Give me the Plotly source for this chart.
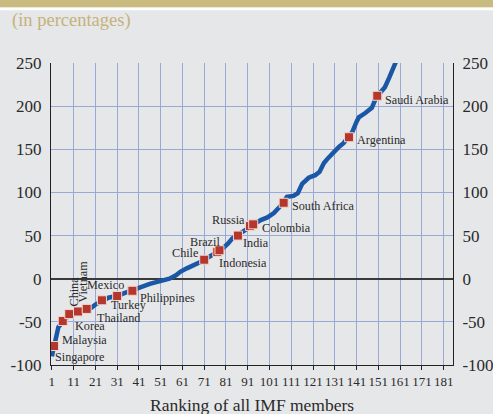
import plotly.graph_objects as go

# curve: rank of member vs. value (in percentages)
line_rank = [1, 1.5, 2, 3, 4, 5, 6, 8, 9, 11, 13, 15, 17, 19, 21, 24, 27, 29, 31, 34,
             36, 38, 40, 42, 44, 46, 49, 52, 55, 58, 60, 63, 66, 69, 71, 74, 77, 79, 82, 84,
             86, 88, 91, 93, 95, 97, 100, 103, 105, 107, 109, 112, 114, 116, 119, 122, 124,
             126, 128, 131, 133, 135, 137, 139, 141, 142, 145, 148, 150, 152, 154, 156, 158,
             159, 160]
line_value = [-90, -84, -78, -62, -56, -53, -50, -45, -42, -41, -38, -37, -35, -34, -30, -26,
              -22, -21, -20, -17, -15, -14, -12, -10, -7, -6, -4, -2, 0, 4, 8, 12, 15, 19, 22,
              27, 31, 34, 41, 47, 50, 53, 59, 62, 65, 68, 71, 76, 81, 87, 95, 96, 99, 110, 117,
              120, 124, 134, 140, 149, 153, 157, 163, 170, 182, 187, 192, 198, 210, 216, 222,
              233, 245, 250, 257]

countries = ["Singapore", "Malaysia", "Korea", "China", "Vietnam", "Thailand", "Turkey",
             "Mexico", "Philippines", "Chile", "Brazil", "Indonesia", "India", "Russia",
             "Colombia", "South Africa", "Argentina", "Saudi Arabia"]
country_rank = [2, 6, 9, 13, 17, 24, 31, 38, 38, 71, 77, 78, 86.5, 92, 93.5, 107.5, 137.5, 150.5]
country_value = [-78, -49, -41, -38, -35, -25, -20, -14, -14, 22, 31, 33, 50, 61, 63, 88, 164, 212]

x_ticks = list(range(1, 182, 10))
y_ticks = [-100, -50, 0, 50, 100, 150, 200, 250]
y_labels = ["-100", "-50", "0", "50", "100", "150", "200", "250"]

# label placement: (xanchor, xshift, yshift, angle)
label_pos = {
    "Singapore": ("left", -1, -11, 0),
    "Malaysia": ("left", -3, -19, 0),
    "Korea": ("left", 4, -12, 0),
    "China": ("center", -4, 20, -90),
    "Vietnam": ("center", -4, 27, -90),
    "Thailand": ("left", -7, -18, 0),
    "Turkey": ("left", -8, -9, 0),
    "Mexico": ("right", -6, 6, 0),
    "Philippines": ("left", 6, -7, 0),
    "Chile": ("right", -4, 7, 0),
    "Brazil": ("right", 5, 10, 0),
    "Indonesia": ("left", -2, -13, 0),
    "India": ("left", 3, -7, 0),
    "Russia": ("right", -3, 6, 0),
    "Colombia": ("left", 7, -4, 0),
    "South Africa": ("left", 6, -3, 0),
    "Argentina": ("left", 6, -3, 0),
    "Saudi Arabia": ("left", 6, -4, 0),
}

SERIF = "Liberation Serif, Times New Roman, serif"
BG = "#e6e7e9"
GRID = "#9aa8d8"
TXT = "#2a2a2a"

fig = go.Figure()
fig.add_trace(go.Scatter(x=line_rank, y=line_value, mode="lines",
                         line=dict(color="#1a57a6", width=4.5), hoverinfo="skip"))
fig.add_trace(go.Scatter(x=country_rank, y=country_value, mode="markers",
                         marker=dict(symbol="square", size=9, color="#b3372d",
                                     line=dict(color="#f3d6cf", width=1)),
                         text=countries))
# invisible trace so the right axis is drawn
fig.add_trace(go.Scatter(x=[None], y=[None], yaxis="y2", showlegend=False))

for name, rk, val in zip(countries, country_rank, country_value):
    anchor, dx, dy, ang = label_pos[name]
    fig.add_annotation(x=rk, y=val, text=name, showarrow=False, xanchor=anchor,
                       yanchor="middle", xshift=dx, yshift=dy, textangle=ang,
                       font=dict(family=SERIF, size=12.2, color=TXT))

fig.add_annotation(xref="paper", yref="paper", x=-0.102, y=1.14, xanchor="left",
                   yanchor="middle", showarrow=False, text="(in percentages)",
                   font=dict(family=SERIF, size=18.5, color="#c5b27a"))
fig.add_annotation(xref="paper", yref="paper", x=0.5, y=-0.131, xanchor="center",
                   yanchor="middle", showarrow=False, text="Ranking of all IMF members",
                   font=dict(family=SERIF, size=17.5, color=TXT))

# gold header band with a thin white rule under it
fig.add_shape(type="rect", xref="paper", yref="paper", x0=-0.2, x1=1.2, y0=1.184, y1=1.25,
              fillcolor="#c9ba80", line_width=0, layer="below")
fig.add_shape(type="rect", xref="paper", yref="paper", x0=-0.2, x1=1.2, y0=1.175, y1=1.184,
              fillcolor="#ffffff", line_width=0, layer="below")

fig.update_layout(
    width=493, height=414,
    margin=dict(l=51, r=40, t=63, b=49),
    paper_bgcolor=BG, plot_bgcolor=BG,
    showlegend=False,
    xaxis=dict(range=[0.6, 185.3], tickvals=x_ticks, ticks="outside", ticklen=4,
               tickcolor="#222", showgrid=True, gridcolor=GRID, gridwidth=1,
               showline=True, linecolor="#222", linewidth=1, zeroline=False,
               tickangle=0, automargin=False,
               tickfont=dict(family=SERIF, size=13, color=TXT)),
    yaxis=dict(range=[-100, 250], tickvals=y_ticks, ticktext=y_labels, showgrid=True,
               gridcolor=GRID, gridwidth=1,
               zeroline=True, zerolinecolor="#3a3a3a", zerolinewidth=1.5,
               showline=True, linecolor="#222", linewidth=1, ticks="",
               ticklabelstandoff=5, automargin=False,
               tickfont=dict(family=SERIF, size=17, color=TXT)),
    yaxis2=dict(range=[-100, 250], tickvals=y_ticks, ticktext=y_labels, overlaying="y",
                side="right", showgrid=False, automargin=False,
                zeroline=False, showline=True, linecolor="#222", linewidth=1, ticks="",
                ticklabelstandoff=5,
                tickfont=dict(family=SERIF, size=17, color=TXT)),
)

# the page body has a default 8px margin; drop it so the figure fills the window
fig.write_html("out.html", config={"displayModeBar": False},
               post_script="document.body.style.margin='0';")
